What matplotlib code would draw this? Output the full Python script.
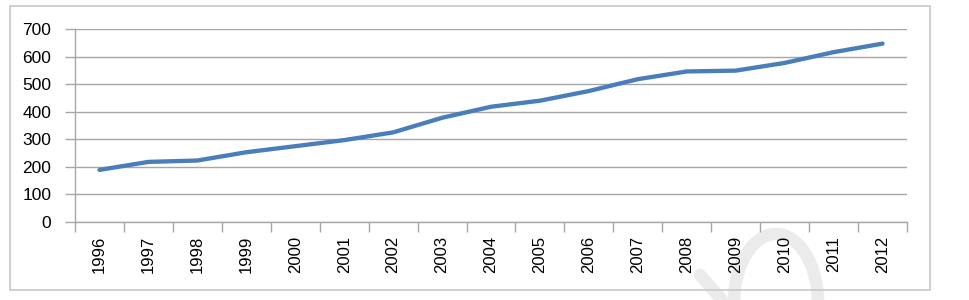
import numpy as np
import matplotlib
matplotlib.use("Agg")
import matplotlib.pyplot as plt
from matplotlib.patches import Rectangle, Arc
from matplotlib.lines import Line2D

years = ["1996", "1997", "1998", "1999", "2000", "2001", "2002", "2003", "2004",
         "2005", "2006", "2007", "2008", "2009", "2010", "2011", "2012"]
values = [189, 218, 223, 253, 275, 297, 325, 378, 418, 440, 475, 518, 546, 549, 577, 616, 647]
yticks = [0, 100, 200, 300, 400, 500, 600, 700]

plt.rcParams["font.family"] = ["Liberation Sans", "DejaVu Sans"]
grey = "#a6a6a6"
W, H = 970, 300

fig = plt.figure(figsize=(9.7, 3.0), dpi=100)
fig.patches.append(Rectangle((10 / W, 10 / H), 920 / W, 284 / H,
                             transform=fig.transFigure, fill=False,
                             edgecolor="#c8c8c8", linewidth=1.2))

# faint watermark in the lower right corner, kept behind the axes
fig.patches.append(Arc((776 / W, -3 / H), 84 / W, 138 / H, angle=0,
                       theta1=0, theta2=180, transform=fig.transFigure,
                       color="#ebebeb", linewidth=9, zorder=-5))
fig.lines.append(Line2D([700 / W, 722 / W], [25 / H, 0], transform=fig.transFigure,
                        color="#ebebeb", linewidth=9, solid_capstyle="round", zorder=-5))

ax = fig.add_axes([75 / W, 1 - 222 / H, 832 / W, 193 / H])
ax.patch.set_alpha(0)
ax.set_zorder(1)
x = np.arange(len(years))
ax.plot(x, values, color="#4a7ebb", linewidth=3.1, solid_joinstyle="round",
        solid_capstyle="round", zorder=3)

ax.set_xlim(-0.5, len(years) - 0.5)
ax.set_ylim(0, 700)
ax.set_yticks(yticks)
ax.set_yticklabels([str(v) for v in yticks])
ax.yaxis.grid(True, color=grey, linewidth=1.0)
ax.set_axisbelow(True)

ax.set_xticks(x)
ax.set_xticklabels(years, rotation=90)
ax.set_xticks(np.arange(-0.5, len(years)), minor=True)
ax.tick_params(axis="x", which="major", length=0, pad=10, labelsize=12)
ax.tick_params(axis="x", which="minor", length=7, color=grey, width=1.0)
ax.tick_params(axis="y", length=7, color=grey, width=1.0, pad=10, labelsize=12.5)

for s in ["top", "right"]:
    ax.spines[s].set_visible(False)
for s in ["left", "bottom"]:
    ax.spines[s].set_color(grey)
    ax.spines[s].set_linewidth(1.0)

fig.savefig("out.png", dpi=100)
